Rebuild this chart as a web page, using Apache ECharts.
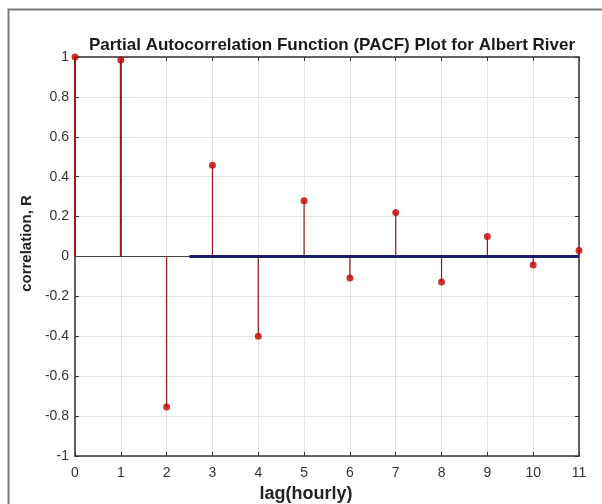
<!DOCTYPE html>
<html>
<head>
<meta charset="utf-8">
<script src="https://cdn.jsdelivr.net/npm/echarts@6/dist/echarts.min.js"></script>
<style>
  html, body { margin: 0; padding: 0; background: #fff; }
  #chart { width: 602px; height: 504px; }
</style>
</head>
<body>
<div id="chart"></div>
<script>
// lag (hours) and partial autocorrelation values
const lags = [0, 1, 2, 3, 4, 5, 6, 7, 8, 9, 10, 11];
const pacf = [1.0, 0.985, -0.755, 0.458, -0.4, 0.28, -0.108, 0.22, -0.128, 0.1, -0.043, 0.03];
// thick blue zero line segment (lag range)
const boundLags = [2.5, 11];
const boundValues = [0, 0];

const stemData = lags.map((x, i) => [x, pacf[i]]);

const chart = echarts.init(document.getElementById("chart"));

const font = "Liberation Sans, Arial, sans-serif";

chart.setOption({
  animation: false,
  title: {
    text: "Partial Autocorrelation Function (PACF) Plot for Albert River",
    left: 327,
    textAlign: "center",
    top: 32,
    textStyle: { fontFamily: font, fontSize: 17, fontWeight: "bold", color: "#1a1a1a" },
  },
  graphic: [
    {
      type: "rect",
      left: 6,
      top: 7,
      shape: { width: 610, height: 510 },
      style: { fill: "none", stroke: "#7a7a7a", lineWidth: 2 },
      silent: true,
    },
  ],
  grid: { left: 75, right: 23, top: 57, bottom: 48, containLabel: false, outerBoundsMode: "none" },
  xAxis: [
    {
      type: "value",
      min: 0,
      max: 11,
      interval: 1,
      name: "lag(hourly)",
      nameLocation: "middle",
      nameGap: 29,
      nameTextStyle: {
        fontFamily: font, fontSize: 18, fontWeight: "bold", color: "#222",
        padding: [0, 42, 0, 0],
      },
      axisLine: { show: true, onZero: false, lineStyle: { color: "#333", width: 1.5 } },
      axisTick: { show: true, inside: true, length: 4, lineStyle: { color: "#333" } },
      axisLabel: { fontFamily: font, fontSize: 14, color: "#333", margin: 10 },
      splitLine: { show: true, lineStyle: { color: "#e2e2e2" } },
    },
    {
      type: "value",
      position: "top",
      min: 0,
      max: 11,
      interval: 1,
      axisLine: { show: true, onZero: false, lineStyle: { color: "#333", width: 1.5 } },
      axisTick: { show: true, inside: true, length: 4, lineStyle: { color: "#333" } },
      axisLabel: { show: false },
      splitLine: { show: false },
    },
  ],
  yAxis: [
    {
      type: "value",
      min: -1,
      max: 1,
      interval: 0.2,
      name: "correlation, R",
      nameLocation: "middle",
      nameGap: 34,
      nameTextStyle: {
        fontFamily: font, fontSize: 15, fontWeight: "bold", color: "#222",
        padding: [0, 0, 0, 26],
      },
      axisLine: { show: true, onZero: false, lineStyle: { color: "#333", width: 1.5 } },
      axisTick: { show: true, inside: true, length: 4, lineStyle: { color: "#333" } },
      axisLabel: { fontFamily: font, fontSize: 14, color: "#333", margin: 6 },
      splitLine: { show: true, lineStyle: { color: "#e2e2e2" } },
    },
    {
      type: "value",
      position: "right",
      min: -1,
      max: 1,
      interval: 0.2,
      axisLine: { show: true, onZero: false, lineStyle: { color: "#333", width: 1.5 } },
      axisTick: { show: true, inside: true, length: 4, lineStyle: { color: "#333" } },
      axisLabel: { show: false },
      splitLine: { show: false },
    },
  ],
  series: [
    {
      name: "baseline",
      type: "line",
      data: [[lags[0], 0], [lags[lags.length - 1], 0]],
      showSymbol: false,
      lineStyle: { color: "#444", width: 1 },
      silent: true,
      z: 2,
    },
    {
      name: "bound",
      type: "line",
      data: boundLags.map((x, i) => [x, boundValues[i]]),
      showSymbol: false,
      lineStyle: { color: "#1c1c6b", width: 3 },
      silent: true,
      z: 4,
    },
    {
      name: "stems",
      type: "custom",
      data: stemData,
      renderItem: (params, api) => {
        const x = api.value(0);
        const y = api.value(1);
        const p0 = api.coord([x, 0]);
        const p1 = api.coord([x, y]);
        return {
          type: "line",
          shape: { x1: p0[0], y1: p0[1], x2: p1[0], y2: p1[1] },
          style: { stroke: "#8e1b1b", lineWidth: x < 2 ? 2 : 1.2 },
        };
      },
      z: 3,
    },
    {
      name: "PACF",
      type: "scatter",
      data: stemData,
      symbol: "circle",
      symbolSize: 7,
      itemStyle: { color: "#c00000" },
      z: 5,
    },
  ],
});
</script>
</body>
</html>
